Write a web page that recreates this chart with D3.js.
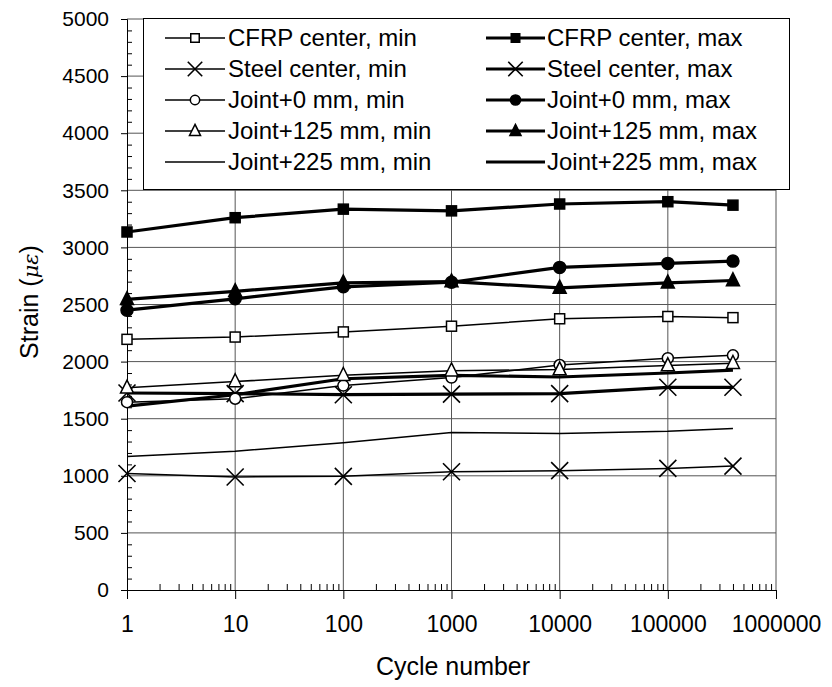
<!DOCTYPE html>
<html><head><meta charset="utf-8">
<script src="https://cdn.jsdelivr.net/npm/d3@7/dist/d3.min.js"></script>
<style>body{margin:0;background:#fff}svg{display:block}text{font-family:Arial,"Liberation Sans",sans-serif;fill:#000}</style>
</head><body><svg id="c" width="832" height="687"></svg>
<script>
const cycles = [1, 10, 100, 1000, 10000, 100000, 400000];
const cfrpMin = [2195, 2215, 2260, 2310, 2375, 2395, 2385];
const cfrpMax = [3135, 3260, 3335, 3320, 3380, 3400, 3370];
const steelMin = [1020, 990, 995, 1035, 1045, 1065, 1085];
const steelMax = [1725, 1720, 1710, 1715, 1720, 1775, 1775];
const joint0Min = [1645, 1675, 1790, 1860, 1970, 2030, 2055];
const joint0Max = [2450, 2550, 2655, 2695, 2825, 2860, 2880];
const joint125Min = [1770, 1825, 1880, 1920, 1930, 1965, 1985];
const joint125Max = [2545, 2615, 2690, 2700, 2645, 2690, 2710];
const joint225Min = [1170, 1215, 1290, 1380, 1370, 1390, 1415];
const joint225Max = [1610, 1710, 1850, 1880, 1865, 1900, 1925];
const xTickLabels = ["1", "10", "100", "1000", "10000", "100000", "1000000"];
const yTickLabels = ["0","500","1000","1500","2000","2500","3000","3500","4000","4500","5000"];

const series = [
  {name:"CFRP center, min", v:cfrpMin, m:"square", fill:false, w:1.5},
  {name:"CFRP center, max", v:cfrpMax, m:"square", fill:true, w:3.2},
  {name:"Steel center, min", v:steelMin, m:"x", fill:false, w:1.5},
  {name:"Steel center, max", v:steelMax, m:"x", fill:true, w:3.2},
  {name:"Joint+0 mm, min", v:joint0Min, m:"circle", fill:false, w:1.5},
  {name:"Joint+0 mm, max", v:joint0Max, m:"circle", fill:true, w:3.2},
  {name:"Joint+125 mm, min", v:joint125Min, m:"triangle", fill:false, w:1.5},
  {name:"Joint+125 mm, max", v:joint125Max, m:"triangle", fill:true, w:3.2},
  {name:"Joint+225 mm, min", v:joint225Min, m:"none", fill:false, w:1.5},
  {name:"Joint+225 mm, max", v:joint225Max, m:"none", fill:true, w:3.2}
];

const L=127, R=776, T=19, B=590;
const svg = d3.select("#c");
const x = d3.scaleLog().domain([1,1e6]).range([L,R]);
const y = d3.scaleLinear().domain([0,5000]).range([B,T]);

// gridlines
const g = svg.append("g");
g.selectAll("line.h").data(d3.range(500,5001,500)).join("line")
 .attr("x1",L).attr("x2",R).attr("y1",d=>y(d)).attr("y2",d=>y(d))
 .attr("stroke","#555").attr("stroke-width",1);
g.selectAll("line.v").data(d3.range(1,7).map(i=>Math.pow(10,i))).join("line")
 .attr("x1",d=>x(d)).attr("x2",d=>x(d)).attr("y1",T).attr("y2",B)
 .attr("stroke","#555").attr("stroke-width",1);

// y axis
const yAxis = d3.axisLeft(y).tickValues(yTickLabels.map(Number)).tickSize(6).tickPadding(12).tickFormat(d=>d);
const ya = svg.append("g").attr("transform",`translate(${L},0)`).call(yAxis);
ya.select(".domain").attr("stroke","#000");
ya.selectAll("text").style("font-size","21px");
const yMinor = d3.axisRight(y).tickValues(d3.range(0,5001,100).filter(v=>v%500)).tickSize(5).tickFormat("");
const ym = svg.append("g").attr("transform",`translate(${L},0)`).call(yMinor);
ym.select(".domain").remove();

// x axis
const xAxis = d3.axisBottom(x).tickValues(xTickLabels.map(Number)).tickSize(9).tickPadding(17).tickFormat((d,i)=>xTickLabels[i]);
const xa = svg.append("g").attr("transform",`translate(0,${B})`).call(xAxis);
xa.select(".domain").attr("stroke","#000");
xa.selectAll("text").style("font-size","23px");
const minorX = [];
for (let e=0;e<6;e++) for (let k=2;k<=9;k++) minorX.push(k*Math.pow(10,e));
const xMinor = d3.axisTop(x).tickValues(minorX).tickSize(6).tickFormat("");
const xm = svg.append("g").attr("transform",`translate(0,${B})`).call(xMinor);
xm.select(".domain").remove();

// axis titles
svg.append("text").attr("x",453).attr("y",675).attr("text-anchor","middle").style("font-size","25px").text("Cycle number");
const yt = svg.append("text").attr("transform","translate(38,302) rotate(-90)").attr("text-anchor","middle").style("font-size","25px");
yt.append("tspan").text("Strain (");
yt.append("tspan").style("font-style","italic").style("font-family","'DejaVu Serif',serif").style("font-size","21px").text("με");
yt.append("tspan").text(")");

function marker(sel, s, cx, cy, scale){
  const k = scale||1;
  if (s.m==="square"){
    const a=10*k;
    sel.append("rect").attr("x",cx-a/2).attr("y",cy-a/2).attr("width",a).attr("height",a)
      .attr("fill",s.fill?"#000":"#fff").attr("stroke","#000").attr("stroke-width",1.5);
  } else if (s.m==="circle"){
    sel.append("circle").attr("cx",cx).attr("cy",cy).attr("r",(s.fill?6:5.5)*k)
      .attr("fill",s.fill?"#000":"#fff").attr("stroke","#000").attr("stroke-width",1.5);
  } else if (s.m==="triangle"){
    const h=13*k, w=13*k;
    sel.append("path").attr("d",`M${cx},${cy-h*0.6}L${cx+w/2},${cy+h*0.4}L${cx-w/2},${cy+h*0.4}Z`)
      .attr("fill",s.fill?"#000":"#fff").attr("stroke","#000").attr("stroke-width",1.5);
  } else if (s.m==="x"){
    const a=8.5*k;
    sel.append("path").attr("d",`M${cx-a},${cy-a}L${cx+a},${cy+a}M${cx-a},${cy+a}L${cx+a},${cy-a}`)
      .attr("stroke","#000").attr("stroke-width",1.6).attr("fill","none");
  }
}

// series
const line = d3.line().x(d=>x(d[0])).y(d=>y(d[1]));
const sg = svg.append("g");
series.forEach(s=>{
  const pts = cycles.map((c,i)=>[c,s.v[i]]);
  sg.append("path").attr("d",line(pts)).attr("fill","none").attr("stroke","#000").attr("stroke-width",s.w).attr("stroke-linejoin","round");
});
series.forEach(s=>{
  const mg = sg.append("g");
  cycles.forEach((c,i)=>marker(mg,s,x(c),y(s.v[i])));
});

// legend
const lg = svg.append("g");
lg.append("rect").attr("x",143.5).attr("y",18.5).attr("width",646).attr("height",171).attr("fill","#fff").attr("stroke","#000").attr("stroke-width",1);
series.forEach((s,i)=>{
  const col=i%2, row=Math.floor(i/2);
  const cy = 38 + row*31;
  const x0 = col? 486:165, x1 = col? 545:225;
  lg.append("line").attr("x1",x0).attr("x2",x1).attr("y1",cy).attr("y2",cy).attr("stroke","#000").attr("stroke-width",s.w);
  marker(lg,s,(x0+x1)/2,cy,0.85);
  lg.append("text").attr("x",col?547:228).attr("y",cy+8).style("font-size","24px").text(s.name);
});
</script></body></html>
